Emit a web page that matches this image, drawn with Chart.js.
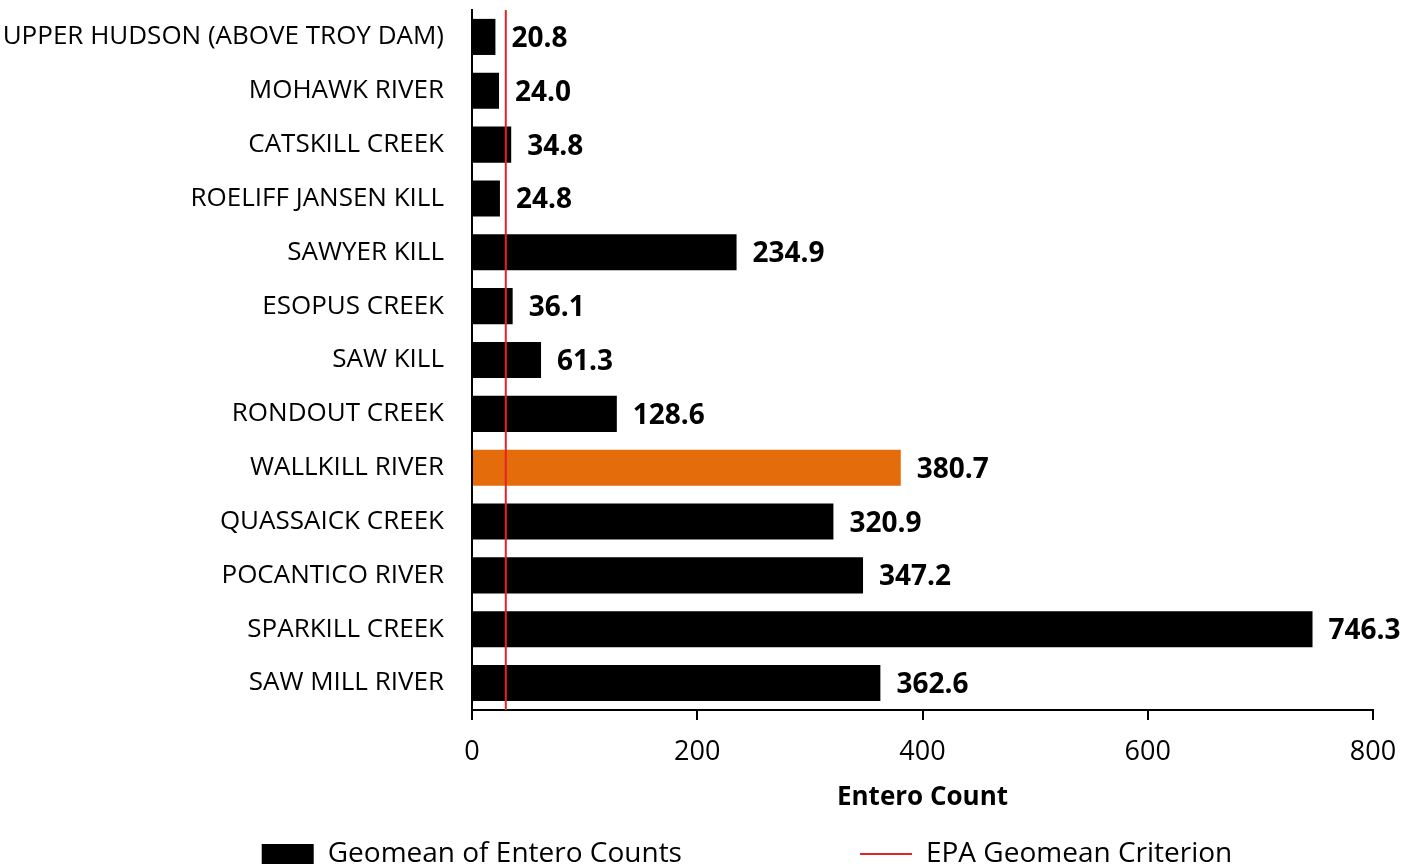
<!DOCTYPE html>
<html lang="en">
  <head>
    <meta charset="UTF-8" />
    <title>Entero Counts</title>
    <style>
      html, body { margin: 0; padding: 0; background: #fff; overflow: hidden; }
      .wrap { width: 1403px; height: 878px; }
    </style>
  </head>
  <body>
    <div class="wrap"><canvas id="chart"></canvas></div>
    <script src="https://cdn.jsdelivr.net/npm/chart.js@4.4.1/dist/chart.umd.min.js"></script>
    <script>
var sites = [
  'UPPER HUDSON (ABOVE TROY DAM)', 'MOHAWK RIVER', 'CATSKILL CREEK', 'ROELIFF JANSEN KILL',
  'SAWYER KILL', 'ESOPUS CREEK', 'SAW KILL', 'RONDOUT CREEK', 'WALLKILL RIVER',
  'QUASSAICK CREEK', 'POCANTICO RIVER', 'SPARKILL CREEK', 'SAW MILL RIVER'
];
var geomeans = [20.8, 24.0, 34.8, 24.8, 234.9, 36.1, 61.3, 128.6, 380.7, 320.9, 347.2, 746.3, 362.6];
var highlightSite = 'WALLKILL RIVER';
var epaCriterion = 30;
var xTicks = [0, 200, 400, 600, 800];

var barColors = sites.map(s => s === highlightSite ? '#E46C0A' : '#000000');
var lineColor = '#E3232A';
var font = "'Open Sans', sans-serif";

// red criterion line + value labels next to each bar
var extras = {
  id: 'extras',
  afterLayout(chart) {
    // legend sits a bit right of centre in the original
    if (chart.legend) chart.legend.left = 121;
  },
  afterDatasetsDraw(chart) {
    var ctx = chart.ctx;
    var area = chart.chartArea;
    var xPos = chart.scales.x.getPixelForValue(epaCriterion);
    ctx.save();
    ctx.strokeStyle = lineColor;
    ctx.lineWidth = 2;
    ctx.beginPath();
    ctx.moveTo(xPos, area.top);
    ctx.lineTo(xPos, area.bottom);
    ctx.stroke();

    ctx.font = 'bold 28px ' + font;
    ctx.fillStyle = '#000';
    ctx.textBaseline = 'middle';
    chart.getDatasetMeta(0).data.forEach((bar, i) => {
      ctx.fillText(geomeans[i].toFixed(1), bar.x + 16, bar.y + 2);
    });
    ctx.restore();
  }
};

var ctx = document.getElementById('chart').getContext('2d');
var chart = new Chart(ctx, {
  type: 'bar',
  data: {
    labels: sites,
    datasets: [{
      label: 'Geomean of Entero Counts',
      data: geomeans,
      backgroundColor: barColors,
      barPercentage: 0.67,
      categoryPercentage: 1
    }]
  },
  options: {
    indexAxis: 'y',
    responsive: true,
    maintainAspectRatio: false,
    animation: false,
    layout: { padding: { top: 10, right: 30, left: 0, bottom: 0 } },
    scales: {
      x: {
        min: 0,
        max: 800,
        afterBuildTicks(scale) { scale.ticks = xTicks.map(v => ({ value: v })); },
        afterFit(scale) {
          scale.height = 120;
          scale.paddingLeft = 0;
          scale.paddingRight = 0;
        },
        grid: { drawOnChartArea: false, drawTicks: true, tickLength: 10, color: '#000', lineWidth: 2 },
        border: { color: '#000', width: 2 },
        ticks: { color: '#000', font: { size: 27, family: font }, padding: 16 },
        title: { display: true, text: 'Entero Count', color: '#000', font: { size: 26, weight: 'bold', family: font }, padding: { top: 0, bottom: 17 } }
      },
      y: {
        afterFit(scale) {
          scale.width = 472;
          scale.paddingTop = 0;
          scale.paddingBottom = 0;
        },
        grid: { display: false },
        border: { color: '#000', width: 2 },
        ticks: { color: '#000', font: { size: 26, family: font }, padding: 20, autoSkip: false }
      }
    },
    plugins: {
      legend: {
        position: 'bottom',
        labels: {
          color: '#000',
          font: { size: 28, family: font },
          usePointStyle: true,
          pointStyleWidth: 52,
          boxHeight: 20,
          padding: 10,
          generateLabels() {
            return [{
              text: 'Geomean of Entero Counts' + '\u2003'.repeat(6),
              fillStyle: '#000', strokeStyle: '#000', lineWidth: 0,
              pointStyle: 'rect', fontColor: '#000', datasetIndex: 0
            }, {
              text: 'EPA Geomean Criterion',
              fillStyle: lineColor, strokeStyle: lineColor, lineWidth: 2,
              pointStyle: 'line', fontColor: '#000', datasetIndex: 0
            }];
          }
        }
      },
      tooltip: { enabled: false }
    }
  },
  plugins: [extras]
});
    </script>
  </body>
</html>
